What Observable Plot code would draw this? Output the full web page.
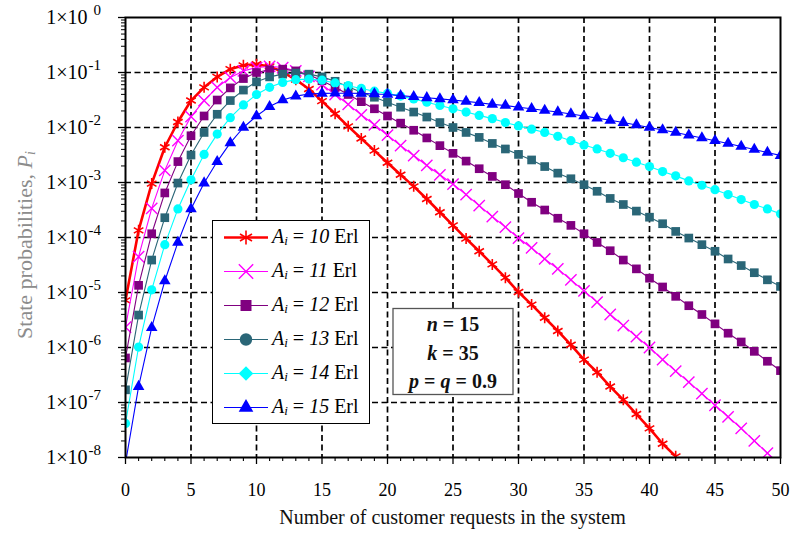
<!DOCTYPE html>
<html>
<head>
<meta charset="utf-8">
<script src="https://cdn.jsdelivr.net/npm/d3@7"></script>
<script src="https://cdn.jsdelivr.net/npm/@observablehq/plot@0.6"></script>
<style>
  body { margin: 0; background: #fff; }
  #chart svg { display: block; }
</style>
</head>
<body>
<div id="chart"></div>
<script>
// ---------------- data ----------------
const states = [0,1,2,3,4,5,6,7,8,9,10,11,12,13,14,15,16,17,18,19,20,21,22,23,24,25,
  26,27,28,29,30,31,32,33,34,35,36,37,38,39,40,41,42,43,44,45,46,47,48,49,50];

const pA10 = [7.2e-6,1.35e-4,9.55e-4,4.37e-3,1.26e-2,3.09e-2,5.37e-2,8.32e-2,0.115,0.135,
  0.141,0.129,0.102,7.41e-2,5.01e-2,3.02e-2,1.78e-2,1.05e-2,6.31e-3,3.80e-3,
  2.29e-3,1.38e-3,8.51e-4,5.01e-4,2.88e-4,1.66e-4,9.55e-5,5.62e-5,3.24e-5,1.86e-5,
  1.02e-5,6.03e-6,3.47e-6,2.00e-6,1.12e-6,6.03e-7,3.55e-7,1.95e-7,1.12e-7,6.17e-8,
  3.39e-8,1.78e-8,1.05e-8];

const pA11 = [2.34e-6,4.47e-5,3.39e-4,1.66e-3,5.75e-3,1.58e-2,3.09e-2,5.37e-2,8.13e-2,0.107,
  0.123,0.129,0.123,0.107,8.51e-2,6.03e-2,3.98e-2,2.63e-2,1.70e-2,1.12e-2,
  7.24e-3,4.68e-3,3.09e-3,2.04e-3,1.38e-3,9.33e-4,6.03e-4,3.80e-4,2.40e-4,1.55e-4,
  9.77e-5,6.46e-5,4.07e-5,2.69e-5,1.70e-5,1.07e-5,6.7e-6,3.98e-6,2.51e-6,1.58e-6,
  1.00e-6,6.03e-7,3.72e-7,2.34e-7,1.45e-7,8.91e-8,5.50e-8,3.39e-8,2.00e-8,1.20e-8,7.41e-9];

const pA12 = [6.46e-7,1.35e-5,1.17e-4,6.46e-4,2.40e-3,7.08e-3,1.62e-2,3.16e-2,5.25e-2,7.76e-2,
  0.100,0.112,0.115,0.107,9.12e-2,7.08e-2,5.37e-2,3.98e-2,2.95e-2,2.19e-2,
  1.62e-2,1.20e-2,8.91e-3,6.46e-3,4.68e-3,3.39e-3,2.45e-3,1.78e-3,1.29e-3,9.12e-4,
  6.31e-4,4.37e-4,3.16e-4,2.24e-4,1.66e-4,1.17e-4,8.13e-5,5.75e-5,3.89e-5,2.69e-5,
  1.82e-5,1.26e-5,8.51e-6,5.75e-6,3.98e-6,2.69e-6,1.82e-6,1.26e-6,8.51e-7,5.62e-7,3.80e-7];

const pA13 = [1.70e-7,3.89e-6,3.89e-5,2.29e-4,9.77e-4,3.16e-3,8.13e-3,1.74e-2,3.09e-2,4.79e-2,
  6.76e-2,8.32e-2,9.33e-2,9.77e-2,9.33e-2,8.32e-2,6.92e-2,5.50e-2,4.37e-2,3.55e-2,
  2.88e-2,2.34e-2,1.91e-2,1.55e-2,1.23e-2,1.00e-2,8.13e-3,6.61e-3,5.13e-3,4.07e-3,
  3.24e-3,2.57e-3,1.95e-3,1.48e-3,1.17e-3,9.12e-4,6.92e-4,5.13e-4,3.98e-4,3.02e-4,
  2.34e-4,1.78e-4,1.29e-4,9.77e-5,7.41e-5,5.62e-5,4.07e-5,3.09e-5,2.29e-5,1.70e-5,1.29e-5];

const pA14 = [4.17e-8,1.02e-6,1.12e-5,7.41e-5,3.31e-4,1.12e-3,3.24e-3,7.59e-3,1.51e-2,2.57e-2,
  3.98e-2,5.37e-2,6.61e-2,7.41e-2,7.59e-2,7.24e-2,6.46e-2,5.75e-2,5.13e-2,4.57e-2,
  4.17e-2,3.72e-2,3.31e-2,2.88e-2,2.51e-2,2.19e-2,1.91e-2,1.66e-2,1.45e-2,1.23e-2,
  1.07e-2,9.33e-3,8.13e-3,6.92e-3,5.75e-3,4.79e-3,4.07e-3,3.39e-3,2.82e-3,2.34e-3,
  1.95e-3,1.58e-3,1.32e-3,1.07e-3,8.91e-4,7.41e-4,6.03e-4,4.90e-4,3.98e-4,3.31e-4,2.69e-4];

const pA15 = [7.94e-9,1.95e-7,2.29e-6,1.62e-5,8.13e-5,3.31e-4,9.77e-4,2.40e-3,5.25e-3,1.00e-2,
  1.62e-2,2.40e-2,3.16e-2,3.72e-2,4.07e-2,4.17e-2,4.2e-2,4.2e-2,4.17e-2,4.07e-2,
  3.98e-2,3.80e-2,3.63e-2,3.47e-2,3.31e-2,3.16e-2,2.99e-2,2.82e-2,2.63e-2,2.51e-2,
  2.34e-2,2.19e-2,2.04e-2,1.91e-2,1.76e-2,1.62e-2,1.48e-2,1.35e-2,1.23e-2,1.11e-2,
  1.00e-2,9.02e-3,8.13e-3,7.24e-3,6.46e-3,5.75e-3,5.13e-3,4.52e-3,3.98e-3,3.51e-3,3.09e-3];

const loads = ["10","11","12","13","14","15"];
const seriesValues = [pA10, pA11, pA12, pA13, pA14, pA15];

const xTicks = [0,5,10,15,20,25,30,35,40,45,50];
const xGrid = [5,10,15,20,25,30,35,40,45];
const yExps = [0,-1,-2,-3,-4,-5,-6,-7,-8];
const yGridExps = [-1,-2,-3,-4,-5,-6,-7];
const xTitle = "Number of customer requests in the system";
const yTitle = "State probabilities, ";
const paramText = [["n"," = 15"],["k"," = 35"],["p"," = ","q"," = 0.9"]];

// ---------------- styles ----------------
const FONT = "'Liberation Serif', 'Times New Roman', serif";
const styles = [
  {color: "#ff0000", symbol: "asterisk", legendSymbol: d3.symbolAsterisk, rot: 0, fill: "none", stroke: "#ff0000", lw: 2.6, mw: 1.6, r: 5.2},
  {color: "#ff00ff", symbol: "times", legendSymbol: d3.symbolTimes, rot: 0, fill: "none", stroke: "#ff00ff", lw: 1.1, mw: 1.4, r: 5.2},
  {color: "#800080", symbol: "square", legendSymbol: d3.symbolSquare, rot: 0, fill: "#800080", stroke: "none", lw: 1.1, mw: 0, r: 4.9},
  {color: "#2a6677", symbol: "square", legendSymbol: d3.symbolCircle, rot: 0, fill: "#2a6677", stroke: "none", lw: 1.1, mw: 0, r: 4.9},
  {color: "#00ffff", symbol: "circle", legendSymbol: d3.symbolSquare, rot: 45, fill: "#00ffff", stroke: "none", lw: 1.1, mw: 0, r: 4.6},
  {color: "#0000ff", symbol: "triangle", legendSymbol: d3.symbolTriangle, rot: 0, fill: "#0000ff", stroke: "none", lw: 1.1, mw: 0, r: 4.3}
];

// ---------------- build rows ----------------
const rowsBySeries = seriesValues.map((vals, j) =>
  vals.map((v, i) => ({state: states[i], p: v, A: loads[j]})));

const minorY = [];
for (let e = -8; e < 0; e++) for (let m = 2; m <= 9; m++) minorY.push(m * 10 ** e);
const minorX = states.filter(s => s % 5 !== 0);

const marks = [
  Plot.ruleX(xGrid, {stroke: "#000", strokeWidth: 1.7, strokeDasharray: "6,3.5"}),
  Plot.ruleY(yGridExps.map(e => 10 ** e), {stroke: "#000", strokeWidth: 1.7, strokeDasharray: "6,3.5"}),
];
rowsBySeries.forEach((rows, j) => {
  const s = styles[j];
  marks.push(Plot.line(rows, {x: "state", y: "p", stroke: s.color, strokeWidth: s.lw, clip: true}));
  marks.push(Plot.dot(rows, {x: "state", y: "p", symbol: s.symbol, r: s.r, fill: s.fill,
    stroke: s.stroke, strokeWidth: s.mw, clip: true}));
});
marks.push(
  Plot.frame({stroke: "#000", strokeWidth: 2}),
  Plot.axisX({ticks: xTicks, tickSize: 7, tickPadding: 19, fontSize: 18, tickFormat: d => String(d), label: null, strokeWidth: 1.3}),
  Plot.axisX({ticks: minorX, tickSize: 4, tickFormat: () => "", label: null, strokeWidth: 1.1}),
  Plot.axisY({ticks: yExps.map(e => 10 ** e), tickSize: 7, tickFormat: () => "", label: null, strokeWidth: 1.3}),
  Plot.axisY({ticks: minorY, tickSize: 4, tickFormat: () => "", label: null, strokeWidth: 1}),
  Plot.text(yExps, {y: e => 10 ** e, frameAnchor: "left", text: () => "1×10", textAnchor: "end",
    dx: -38, fontSize: 20, fill: "#000"}),
  Plot.text(yExps.filter(e => e < 0), {y: e => 10 ** e, frameAnchor: "left", text: e => String(e),
    textAnchor: "start", dx: -37, dy: -7, fontSize: 15, fill: "#000"}),
  Plot.text(yExps.filter(e => e === 0), {y: e => 10 ** e, frameAnchor: "left", text: e => String(e),
    textAnchor: "start", dx: -32, dy: -7, fontSize: 15, fill: "#000"})
);

const chart = Plot.plot({
  width: 795,
  height: 534,
  marginLeft: 125,
  marginRight: 15,
  marginTop: 17,
  marginBottom: 77,
  style: {fontFamily: FONT, fontSize: "18px", background: "#fff", color: "#000", overflow: "visible"},
  x: {domain: [0, 50]},
  y: {type: "log", domain: [1e-8, 1]},
  marks
});
document.getElementById("chart").append(chart);

// ---------------- overlays: titles, legend, parameter box ----------------
const svg = d3.select(chart);
const W = 795, H = 534;
const frameL = 125, frameR = W - 15, frameT = 17, frameB = H - 77;

svg.append("text")
  .attr("x", (frameL + frameR) / 2).attr("y", 519)
  .attr("text-anchor", "middle").attr("dominant-baseline", "middle")
  .attr("font-family", FONT).attr("font-size", 20).attr("fill", "#111")
  .text(xTitle);

const yt = svg.append("text")
  .attr("transform", `translate(27,${(frameT + frameB) / 2 + 8}) rotate(-90)`)
  .attr("text-anchor", "middle").attr("dominant-baseline", "middle")
  .attr("font-family", FONT).attr("font-size", 22).attr("fill", "#8c8c8c");
yt.append("tspan").text(yTitle);
yt.append("tspan").attr("font-style", "italic").text("P");
yt.append("tspan").attr("font-style", "italic").attr("font-size", 14).attr("dy", 5).text("i");

// legend
const lg = svg.append("g");
lg.append("rect").attr("x", 212.5).attr("y", 220.5).attr("width", 157).attr("height", 203)
  .attr("fill", "#fff").attr("stroke", "#000").attr("stroke-width", 1);
loads.forEach((A, j) => {
  const s = styles[j];
  const cy = 237.5 + j * 34;
  lg.append("line").attr("x1", 224).attr("x2", 268).attr("y1", cy).attr("y2", cy)
    .attr("stroke", s.color).attr("stroke-width", s.lw);
  lg.append("path").attr("transform", `translate(246,${cy}) rotate(${s.rot})`)
    .attr("d", d3.symbol().type(s.legendSymbol).size(Math.PI * s.r * s.r * 1.6)())
    .attr("fill", s.fill).attr("stroke", s.stroke).attr("stroke-width", s.mw);
  const t = lg.append("text").attr("x", 272).attr("y", cy).attr("dominant-baseline", "middle")
    .attr("text-anchor", "start")
    .attr("font-family", FONT).attr("font-size", 20).attr("fill", "#000");
  t.append("tspan").attr("font-style", "italic").text("A");
  t.append("tspan").attr("font-style", "italic").attr("font-size", 13).attr("dy", 4).text("i");
  t.append("tspan").attr("dy", -4).text(" = ");
  t.append("tspan").attr("font-style", "italic").text(A);
  t.append("tspan").text(" Erl");
});

// parameter box
const pb = svg.append("g");
pb.append("rect").attr("x", 393).attr("y", 308.5).attr("width", 120).attr("height", 86)
  .attr("fill", "#fff").attr("stroke", "#555").attr("stroke-width", 1.3);
paramText.forEach((parts, i) => {
  const t = pb.append("text").attr("x", 453).attr("y", 326 + i * 28.5)
    .attr("text-anchor", "middle").attr("dominant-baseline", "middle")
    .attr("font-family", FONT).attr("font-size", 20).attr("font-weight", "bold").attr("fill", "#111");
  parts.forEach((p, k) => {
    t.append("tspan").attr("font-style", k % 2 === 0 ? "italic" : "normal").text(p);
  });
});
</script>
</body>
</html>
